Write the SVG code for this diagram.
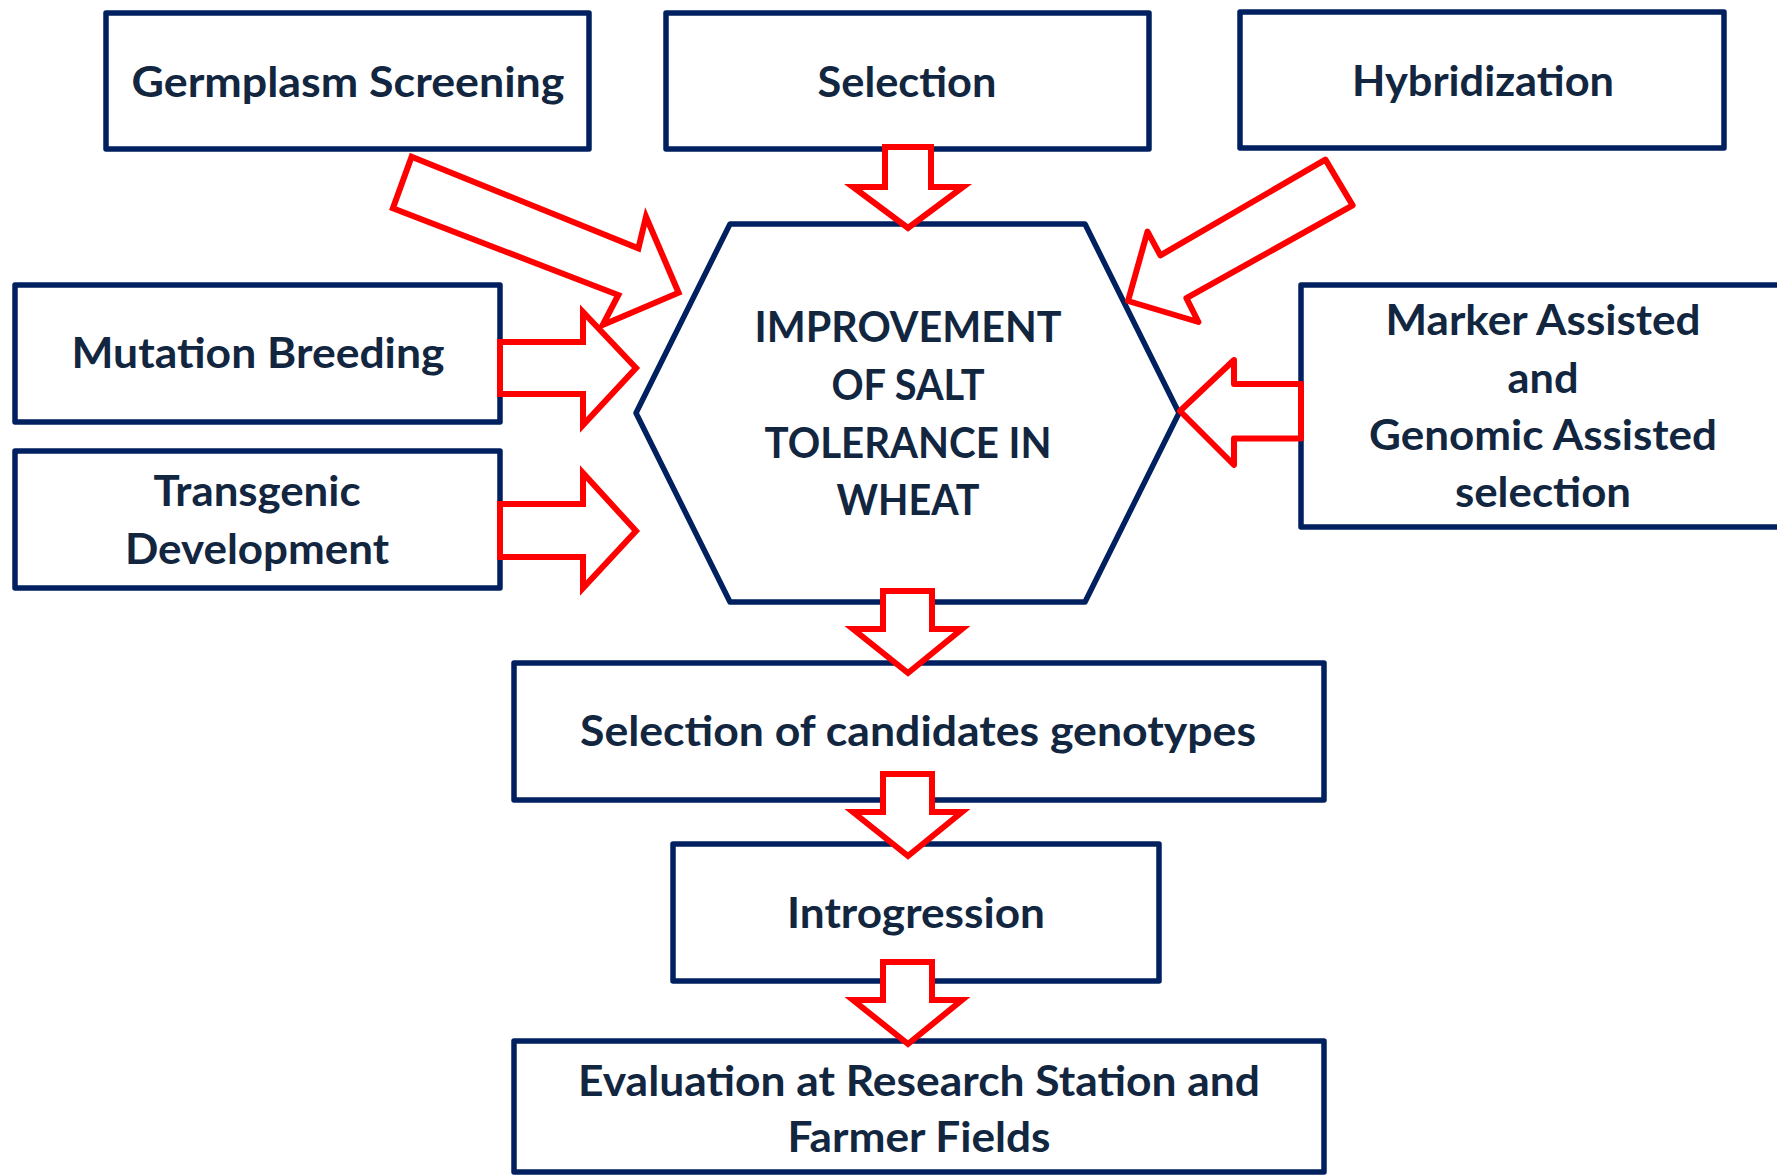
<svg xmlns="http://www.w3.org/2000/svg" width="1777" height="1176" viewBox="0 0 1777 1176">
<style>
.box{fill:#ffffff;stroke:#002060;stroke-width:5.5;stroke-linejoin:round}
.lbl{font-family:Lato,"Open Sans","Liberation Sans",sans-serif;font-weight:bold;font-size:42px;fill:#12263f;text-anchor:middle}
.arr{fill:#ffffff;stroke:#ff0000;stroke-width:6;stroke-linejoin:miter;stroke-miterlimit:10}
.arr.rnd{stroke-linejoin:round}
</style>
<rect width="1777" height="1176" fill="#ffffff"/>
<g id="germplasm">
<rect class="box" x="106" y="13" width="483" height="136"/>
<text class="lbl" x="348" y="97" textLength="433" lengthAdjust="spacingAndGlyphs">Germplasm Screening</text>
</g>
<g id="selection">
<rect class="box" x="666" y="13" width="483" height="136"/>
<text class="lbl" x="907" y="97" textLength="179" lengthAdjust="spacingAndGlyphs">Selection</text>
</g>
<g id="hybridization">
<rect class="box" x="1240" y="12" width="484" height="136"/>
<text class="lbl" x="1483" y="96" textLength="262" lengthAdjust="spacingAndGlyphs">Hybridization</text>
</g>
<g id="marker">
<rect class="box" x="1301" y="285" width="500" height="242"/>
<text class="lbl" x="1543" y="335" textLength="315" lengthAdjust="spacingAndGlyphs">Marker Assisted</text>
<text class="lbl" x="1543" y="393" textLength="71" lengthAdjust="spacingAndGlyphs">and</text>
<text class="lbl" x="1543" y="450" textLength="348" lengthAdjust="spacingAndGlyphs">Genomic Assisted</text>
<text class="lbl" x="1543" y="507" textLength="176" lengthAdjust="spacingAndGlyphs">selection</text>
</g>
<g id="mutation">
<rect class="box" x="15" y="285" width="485" height="137"/>
<text class="lbl" x="258" y="368" textLength="373" lengthAdjust="spacingAndGlyphs">Mutation Breeding</text>
</g>
<g id="transgenic">
<rect class="box" x="15" y="451" width="485" height="137"/>
<text class="lbl" x="257" y="506" textLength="207" lengthAdjust="spacingAndGlyphs">Transgenic</text>
<text class="lbl" x="257" y="564" textLength="264" lengthAdjust="spacingAndGlyphs">Development</text>
</g>
<g id="improvement">
<polygon class="box" points="730,224 1085,224 1179,413 1085,602 730,602 636,413"/>
<text class="lbl" x="908" y="342" textLength="307" lengthAdjust="spacingAndGlyphs">IMPROVEMENT</text>
<text class="lbl" x="908" y="400" textLength="153" lengthAdjust="spacingAndGlyphs">OF SALT</text>
<text class="lbl" x="908" y="458" textLength="287" lengthAdjust="spacingAndGlyphs">TOLERANCE IN</text>
<text class="lbl" x="908" y="515" textLength="143" lengthAdjust="spacingAndGlyphs">WHEAT</text>
</g>
<g id="candidates">
<rect class="box" x="514" y="663" width="810" height="137"/>
<text class="lbl" x="918" y="746" textLength="676" lengthAdjust="spacingAndGlyphs">Selection of candidates genotypes</text>
</g>
<g id="introgression">
<rect class="box" x="673" y="844" width="486" height="137"/>
<text class="lbl" x="916" y="928" textLength="258" lengthAdjust="spacingAndGlyphs">Introgression</text>
</g>
<g id="evaluation">
<rect class="box" x="514" y="1041" width="810" height="131"/>
<text class="lbl" x="919" y="1096" textLength="682" lengthAdjust="spacingAndGlyphs">Evaluation at Research Station and</text>
<text class="lbl" x="919" y="1152" textLength="263" lengthAdjust="spacingAndGlyphs">Farmer Fields</text>
</g>
<g id="connectors">
<polygon class="arr" points="885,147 931,147 931,187 963,187 908,228 853,187 885,187"/>
<polygon class="arr" points="411.6,156.7 638.4,248.3 646,216.7 678.6,292.7 602.7,325 618.3,295 392.9,208.3"/>
<polygon class="arr rnd" points="1325.4,159.6 1352.6,205.3 1186.4,298.2 1198.4,322 1128,301 1147.5,231.6 1160.4,255.4"/>
<polygon class="arr rnd" points="1301,384 1234,384 1234,360 1180,411 1234,465 1234,438.6 1301,438.6"/>
<polygon class="arr" points="500,342 583,342 583,312 636,368 583,425 583,394 500,394"/>
<polygon class="arr" points="500,504 583,504 583,473 636,531 583,588 583,557 500,557"/>
<polygon class="arr" points="883,591 932,591 932,629 962,629 908,673 853,629 883,629"/>
<polygon class="arr" points="883,774 932,774 932,812 962,812 908,856 853,812 883,812"/>
<polygon class="arr" points="883,962 932,962 932,1000 962,1000 908,1044 853,1000 883,1000"/>
</g>
</svg>
